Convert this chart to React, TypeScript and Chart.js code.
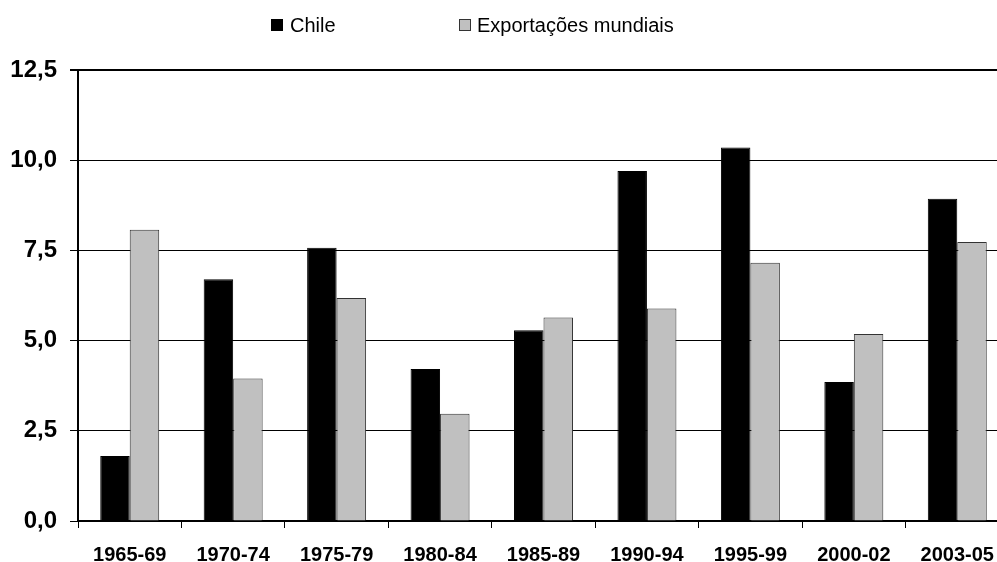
import React, { useEffect, useRef } from "react";
import { Chart, registerables } from "chart.js";

Chart.register(...registerables);

const categories = ["1965-69", "1970-74", "1975-79", "1980-84", "1985-89", "1990-94", "1995-99", "2000-02", "2003-05"];
const chileValues = [1.8, 6.7, 7.57, 4.21, 5.29, 9.7, 10.35, 3.85, 8.93];
const worldValues = [8.07, 3.95, 6.18, 2.97, 5.64, 5.89, 7.16, 5.18, 7.73];
const seriesNames = ["Chile", "Exportações mundiais"];
const yMin = 0;
const yMax = 12.5;
const yStep = 2.5;

const FONT = "'Liberation Sans', Arial, sans-serif";

const legendPlugin = {
  id: "customLegend",
  afterDraw(chart: any) {
    const ctx = chart.ctx;
    const xs = [[271, 290], [459, 477]];
    const y = 25;
    ctx.save();
    ctx.font = `20px ${FONT}`;
    ctx.textBaseline = "middle";
    ctx.textAlign = "left";
    chart.data.datasets.forEach((ds: any, i: number) => {
      const [bx, tx] = xs[i];
      ctx.fillStyle = ds.backgroundColor;
      ctx.fillRect(bx, y - 6, 12, 12);
      ctx.strokeStyle = ds.borderColor;
      ctx.lineWidth = 1;
      ctx.strokeRect(bx + 0.5, y - 5.5, 11, 11);
      ctx.fillStyle = "#000";
      ctx.fillText(ds.label, tx, y + 1);
    });
    ctx.restore();
  },
};

export default function App() {
  const ref = useRef<HTMLCanvasElement | null>(null);
  useEffect(() => {
    if (!ref.current) return;
    const chart = new Chart(ref.current, {
      type: "bar",
      data: {
        labels: categories,
        datasets: [
          {
            label: seriesNames[0],
            data: chileValues,
            backgroundColor: "#000000",
            borderColor: "#000000",
            borderWidth: 1,
            categoryPercentage: 0.57,
            barPercentage: 1,
          },
          {
            label: seriesNames[1],
            data: worldValues,
            backgroundColor: "#C0C0C0",
            borderColor: "#333333",
            borderWidth: 1,
            categoryPercentage: 0.57,
            barPercentage: 1,
          },
        ],
      },
      options: {
        responsive: false,
        animation: false,
        devicePixelRatio: 1,
        layout: { padding: { top: 70, left: 0, right: 1, bottom: 0 } },
        plugins: {
          legend: { display: false },
          tooltip: { enabled: false },
          title: { display: false },
        },
        scales: {
          x: {
            grid: {
              display: true,
              drawOnChartArea: false,
              drawTicks: true,
              tickLength: 7,
              color: "#000",
              lineWidth: 1,
              offset: true,
            },
            border: { display: true, color: "#000", width: 2 },
            ticks: {
              color: "#000",
              font: { family: FONT, size: 20, weight: "bold" },
              padding: 15,
              maxRotation: 0,
              autoSkip: false,
            },
            afterFit(scale: any) {
              scale.height = 41;
            },
          },
          y: {
            min: yMin,
            max: yMax,
            grid: {
              color: "#000",
              lineWidth: (c: any) => (c.tick && c.tick.value === yMax ? 2 : 1),
              drawTicks: true,
              tickLength: 8,
            },
            border: { display: true, color: "#000", width: 2 },
            ticks: {
              stepSize: yStep,
              color: "#000",
              font: { family: FONT, size: 24, weight: "bold" },
              padding: 13,
              callback: (v: any) => Number(v).toFixed(1).replace(".", ","),
            },
            afterFit(scale: any) {
              scale.width = 78;
            },
          },
        },
      },
      plugins: [legendPlugin],
    });
    return () => chart.destroy();
  }, []);

  return (
    <div style={{ position: "fixed", left: 0, top: 0, width: 997, height: 562, overflow: "hidden", background: "#fff" }}>
      <canvas ref={ref} width={1010} height={562} style={{ width: 1010, height: 562, display: "block" }} />
    </div>
  );
}
